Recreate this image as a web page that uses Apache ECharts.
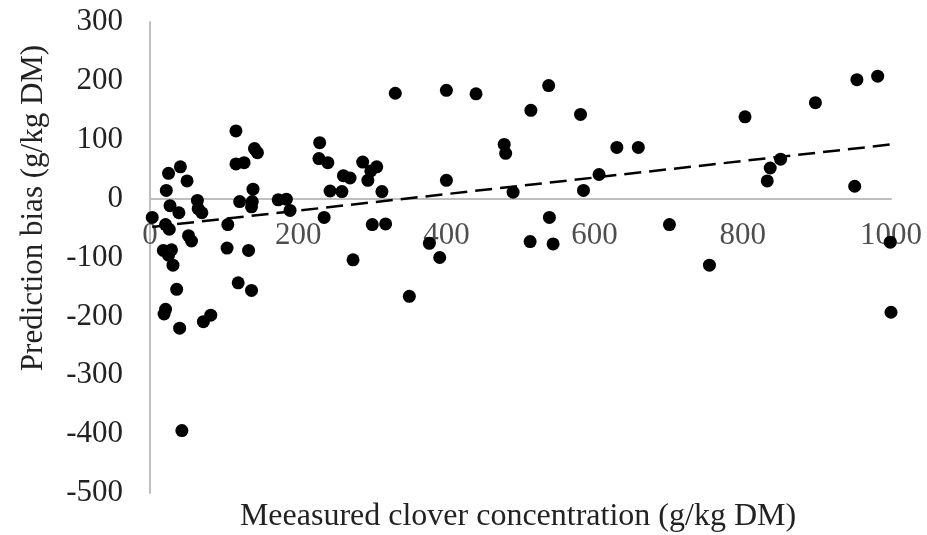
<!DOCTYPE html>
<html>
<head>
<meta charset="utf-8">
<script src="https://cdn.jsdelivr.net/npm/echarts@6/dist/echarts.min.js"></script>
<style>
html,body{margin:0;padding:0;background:#fff;}
#chart{width:927px;height:535px;}
</style>
</head>
<body>
<div id="chart"></div>
<script>
// Measured clover concentration (g/kg DM)
var measuredX = [3, 18, 19, 21, 21, 22, 25, 26, 27, 29, 25, 31, 36, 39, 40, 41, 43, 50, 52, 56,
  64, 65, 70, 72, 82, 104, 105, 116, 116, 119, 121, 127, 133, 137, 137, 138, 139, 141, 145,
  173, 184, 189, 229, 228, 240, 235, 243, 259, 261, 270, 274, 287, 294, 298, 306, 300, 313, 318,
  331, 350, 377, 391, 400, 400, 440, 478, 480, 490, 513, 514, 538, 539, 544, 581, 585, 606,
  630, 659, 701, 755, 803, 833, 837, 851, 898, 951, 954, 982, 999, 1000];
// Prediction bias (g/kg DM)
var biasY = [-32, -88, -196, -188, -44, 14, 43, -52, -12, -87, -96, -113, -154, -24, -220, 54, -394, 30, -63, -72,
  -3, -17, -24, -209, -198, -84, -44, 115, 59, -143, -5, 61, -88, -156, -14, -5, 16, 85, 78,
  -2, -1, -20, 95, 68, 61, -32, 13, 12, 39, 35, -104, 62, 31, 47, 54, -44, 12, -43,
  179, -166, -76, -100, 184, 31, 178, 92, 77, 11, -73, 150, 192, -32, -77, 143, 14, 41,
  87, 87, -44, -113, 139, 30, 52, 67, 163, 21, 202, 208, -74, -193];
// Linear trendline end points
var trendX = [3, 1000];
var trendY = [-48, 92];

var xTicks = [0, 200, 400, 600, 800, 1000];
var yTicks = [-500, -400, -300, -200, -100, 0, 100, 200, 300];

var xTitle = 'Meeasured clover concentration (g/kg DM)';
var yTitle = 'Prediction bias (g/kg DM)';

var FONT = "'Liberation Serif', 'Times New Roman', serif";
var scatterData = measuredX.map(function (x, i) { return [x, biasY[i]]; });
var trendData = trendX.map(function (x, i) { return [x, trendY[i]]; });
// x tick labels sit under the zero line (axis crosses at y = 0)
var xTickData = xTicks.map(function (x) { return [x, 0]; });

var chart = echarts.init(document.getElementById('chart'), null, {renderer: 'canvas'});
chart.setOption({
  animation: false,
  backgroundColor: '#ffffff',
  grid: {left: 150, right: 36, top: 22, bottom: 42, containLabel: false},
  title: {
    text: xTitle,
    left: 513,
    textAlign: 'center',
    top: 496,
    textStyle: {fontFamily: FONT, fontSize: 32, fontWeight: 'normal', color: '#222'}
  },
  graphic: [{
    type: 'text',
    x: 34,
    y: 208,
    rotation: Math.PI / 2,
    style: {text: yTitle, fontFamily: FONT, fontSize: 31, fill: '#222',
      align: 'center', verticalAlign: 'middle'}
  }],
  xAxis: {
    type: 'value',
    min: xTicks[0],
    max: xTicks[xTicks.length - 1],
    interval: 200,
    axisLine: {onZero: true, lineStyle: {color: '#bfbfbf', width: 2}},
    axisTick: {show: false},
    splitLine: {show: false},
    axisLabel: {show: false}
  },
  yAxis: {
    type: 'value',
    min: yTicks[0],
    max: yTicks[yTicks.length - 1],
    interval: 100,
    axisLine: {show: true, onZero: false, lineStyle: {color: '#bfbfbf', width: 2}},
    axisTick: {show: false},
    splitLine: {show: false},
    axisLabel: {fontFamily: FONT, fontSize: 31, color: '#222', margin: 27,
      formatter: function (v) { return String(v); }}
  },
  series: [
    {
      type: 'scatter',
      data: xTickData,
      symbolSize: 0,
      silent: true,
      z: 1,
      label: {
        show: true,
        position: 'bottom',
        distance: 22,
        fontFamily: FONT,
        fontSize: 31,
        color: '#222',
        formatter: function (p) { return String(p.value[0]); }
      }
    },
    {
      type: 'line',
      data: trendData,
      symbol: 'none',
      lineStyle: {color: '#000', width: 2.5, type: [17, 8]},
      z: 3
    },
    {
      type: 'scatter',
      data: scatterData,
      symbol: 'circle',
      symbolSize: 13,
      itemStyle: {color: '#000', opacity: 1},
      z: 4
    }
  ]
});
</script>
</body>
</html>
